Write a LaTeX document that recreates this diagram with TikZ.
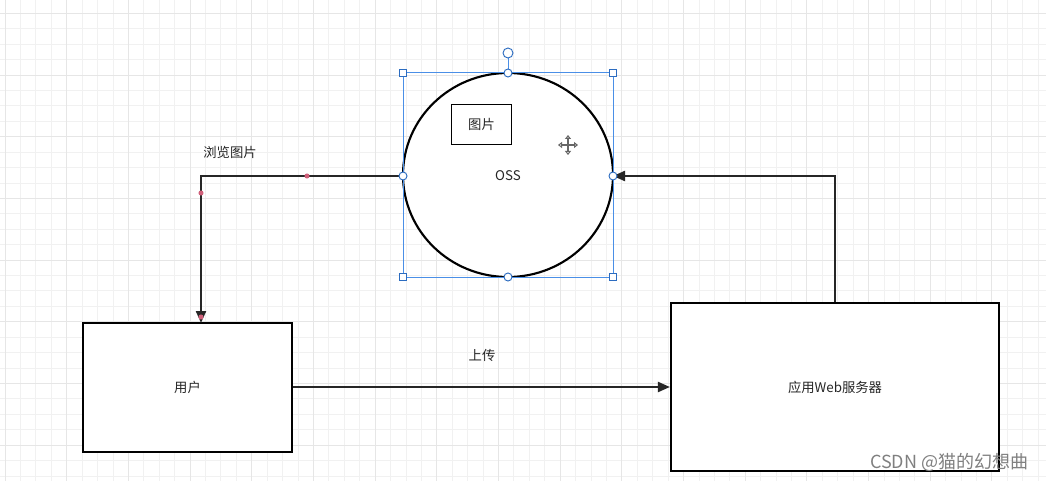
\documentclass[tikz,border=0pt]{standalone}
\usepackage{fontspec}
\setmainfont{Noto Sans CJK SC}
\usetikzlibrary{arrows.meta}
\definecolor{gminor}{HTML}{F1F1F1}
\definecolor{gmajor}{HTML}{E6E6E6}
\definecolor{selblue}{HTML}{4A8FE7}
\definecolor{handleblue}{HTML}{2C6CC0}
\definecolor{pinkdot}{HTML}{D0607A}
\tikzset{
  box/.style={draw=black, line width=1.6pt, fill=white},
  conn/.style={draw=black!85, line width=1.6pt, -{Triangle[length=9pt,width=7.5pt]}},
  lbl/.style={font=\fontsize{10pt}{12pt}\selectfont, text=black!85},
  sqh/.style={draw=handleblue, fill=white, line width=0.7pt, minimum size=5.5pt, inner sep=0pt},
  cih/.style={circle, draw=handleblue, fill=white, line width=0.7pt, minimum size=6pt, inner sep=0pt},
}
\begin{document}
\begin{tikzpicture}[x=0.75pt,y=-0.75pt]
\useasboundingbox (0,0) rectangle (1046,481);
\fill[white] (0,0) rectangle (1046,481);
% grid
\foreach \i in {-1,...,68} {
  \pgfmathsetmacro\gx{5+\i*15.42}
  \draw[gminor, line width=0.6pt] (\gx,0) -- (\gx,481);
}
\foreach \i in {-1,...,32} {
  \pgfmathsetmacro\gy{13.3+\i*15.42}
  \draw[gminor, line width=0.6pt] (0,\gy) -- (1046,\gy);
}
\foreach \i in {0,...,17} {
  \pgfmathsetmacro\gx{5+\i*61.68}
  \draw[gmajor, line width=0.6pt] (\gx,0) -- (\gx,481);
}
\foreach \i in {0,...,8} {
  \pgfmathsetmacro\gy{13.3+\i*61.68}
  \draw[gmajor, line width=0.6pt] (0,\gy) -- (1046,\gy);
}
% OSS ellipse
\draw[box] (508,175) ellipse [x radius=105, y radius=102];
\node[lbl] (oss) at (508,176) {OSS};
\coordinate (ossL) at (403,176);
\coordinate (ossR) at (613,176);
\node[box, line width=1.4pt, minimum width=45pt, minimum height=30pt, lbl] (pic) at (481.5,124.5) {图片};
% move icon
\begin{scope}[draw=black!60, line width=0.8pt]
  \draw[-{Triangle[open,length=3pt,width=4.5pt]}] (568,145) -- (568,135);
  \draw[-{Triangle[open,length=3pt,width=4.5pt]}] (568,145) -- (568,155);
  \draw[-{Triangle[open,length=3pt,width=4.5pt]}] (568,145) -- (558,145);
  \draw[-{Triangle[open,length=3pt,width=4.5pt]}] (568,145) -- (578,145);
\end{scope}
% selection frame
\draw[selblue, line width=0.75pt] (403,73) rectangle (613,277);
\draw[selblue, line width=0.75pt] (508,73) -- (508,58);
\node[sqh] (h1) at (403,73) {};
\node[sqh] (h2) at (613,73) {};
\node[sqh] (h3) at (403,277) {};
\node[sqh] (h4) at (613,277) {};
\node[cih] (h5) at (508,73) {};
\node[cih] (h6) at (508,277) {};
\node[cih, minimum size=7.5pt] (rot) at (508,53) {};
% boxes
\node[box, minimum width=156.75pt, minimum height=96.75pt, lbl] (user) at (187.5,387.5) {用户};
\node[box, minimum width=246pt, minimum height=126pt, lbl] (web) at (835,387) {应用Web服务器};
% connectors
\draw[conn] (user.east |- 0,387) -- (web.west |- 0,387);
\node[lbl] (up) at (482,355) {上传};
\draw[conn] (web.north -| 835,0) -- (835,176) -- (ossR);
\draw[conn] (ossL) -- (201,176) -- (201,323);
\node[lbl] (browse) at (230,152) {浏览图片};
% side handles drawn over connectors
\node[cih] (h7) at (403,176) {};
\node[cih] (h8) at (613,176) {};
% pink dots
\fill[pinkdot] (307,176) circle (1.9pt);
\fill[pinkdot] (201,193) circle (1.9pt);
\fill[pinkdot] (201,317) circle (1.9pt);
% watermark
\node[text=black!50, font=\fontsize{13.5pt}{15pt}\selectfont, anchor=east] (wm) at (1033,462) {CSDN @猫的幻想曲};
\end{tikzpicture}
\end{document}
